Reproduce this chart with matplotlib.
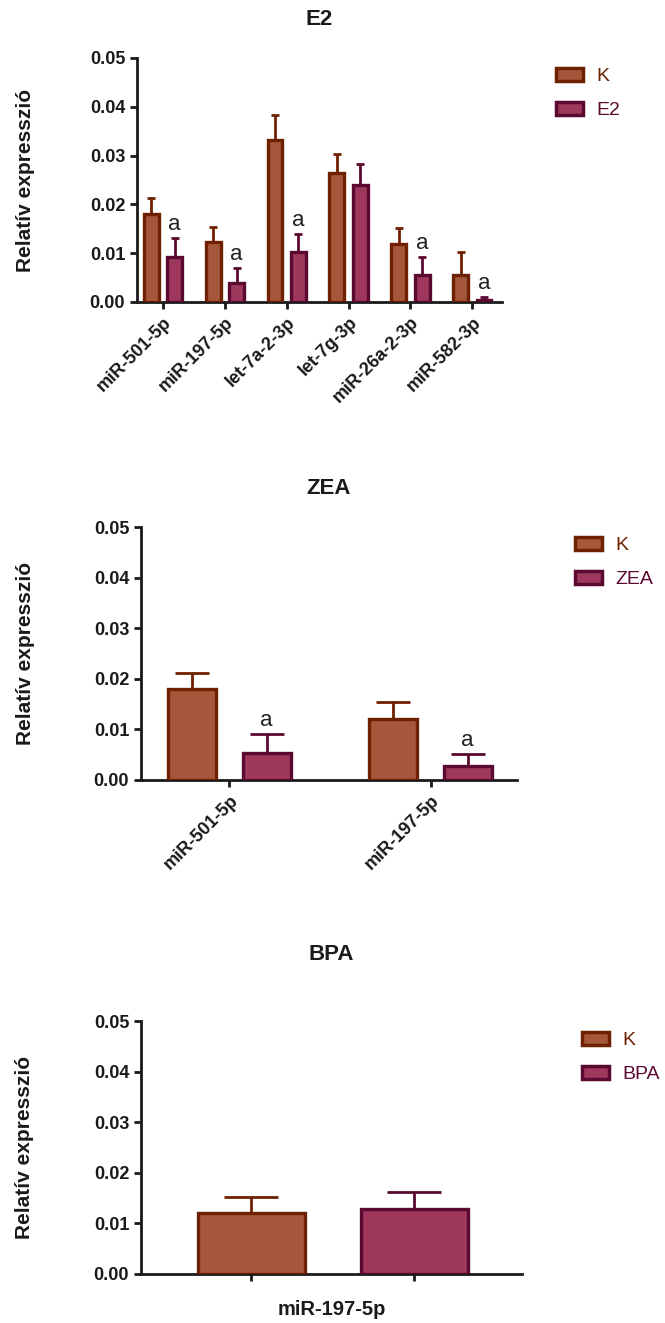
import numpy as np
import matplotlib
matplotlib.use('Agg')
import matplotlib.pyplot as plt
from matplotlib.patches import Patch

plt.rcParams['font.family'] = ['Liberation Sans', 'DejaVu Sans']

# E2 panel
e2_mirs = ['miR-501-5p', 'miR-197-5p', 'let-7a-2-3p', 'let-7g-3p', 'miR-26a-2-3p', 'miR-582-3p']
e2_k = [0.0180, 0.0123, 0.0332, 0.0264, 0.0119, 0.0055]
e2_k_err = [0.0033, 0.0031, 0.0051, 0.0039, 0.0033, 0.0047]
e2_kez = [0.0092, 0.0039, 0.0102, 0.0240, 0.0055, 0.0004]
e2_kez_err = [0.0039, 0.0031, 0.0037, 0.0043, 0.0037, 0.0006]
e2_sig = ['a', 'a', 'a', '', 'a', 'a']

# ZEA panel
zea_mirs = ['miR-501-5p', 'miR-197-5p']
zea_k = [0.0179, 0.0121]
zea_k_err = [0.0032, 0.0033]
zea_kez = [0.0053, 0.0028]
zea_kez_err = [0.0038, 0.0023]
zea_sig = ['a', 'a']

# BPA panel
bpa_mir = 'miR-197-5p'
bpa_k = 0.0121
bpa_k_err = 0.0031
bpa_kez = 0.0128
bpa_kez_err = 0.0034

K_FILL, K_EDGE = '#A5573C', '#6E2000'
T_FILL, T_EDGE = '#9E385C', '#5A0A30'

fig = plt.figure(figsize=(6.65, 13.23), dpi=100)


def style_axes(ax, title, title_pad, ylab_x):
    for s in ['top', 'right']:
        ax.spines[s].set_visible(False)
    for s in ['left', 'bottom']:
        ax.spines[s].set_linewidth(2)
        ax.spines[s].set_color('#1a1a1a')
    ax.set_ylim(0, 0.05)
    ax.set_yticks([0, 0.01, 0.02, 0.03, 0.04, 0.05])
    ax.set_yticklabels(['0.00', '0.01', '0.02', '0.03', '0.04', '0.05'])
    ax.tick_params(width=2, length=5, color='#1a1a1a', labelsize=13, labelcolor='#1a1a1a')
    for lab in ax.get_yticklabels():
        lab.set_fontweight('bold')
    ax.set_ylabel('Relatív expresszió', fontsize=15, fontweight='bold', color='#1a1a1a')
    ax.yaxis.set_label_coords(ylab_x, 0.5)
    ax.set_title(title, fontsize=16, fontweight='bold', pad=title_pad, color='#1a1a1a')


def bars(ax, x, vals, errs, fill, edge, width, capsize):
    vals = np.atleast_1d(vals)
    errs = np.atleast_1d(errs)
    ax.errorbar(x, vals, yerr=[np.zeros_like(errs), errs], fmt='none',
                ecolor=edge, elinewidth=2, capsize=capsize, capthick=2, zorder=2)
    ax.bar(x, vals, width, color=fill, edgecolor=edge, linewidth=2.4, zorder=3)


def legend(label, x, y):
    handles = [Patch(facecolor=K_FILL, edgecolor=K_EDGE, linewidth=2.5),
               Patch(facecolor=T_FILL, edgecolor=T_EDGE, linewidth=2.5)]
    fig.legend(handles, ['K', label], loc='upper left',
               bbox_to_anchor=(x / 665, 1 - y / 1323), frameon=False,
               fontsize=14, labelcolor=[K_EDGE, T_EDGE], borderpad=0,
               borderaxespad=0, handlelength=1.4, handleheight=0.65,
               handletextpad=0.7, labelspacing=0.85)


def sig_labels(ax, x, vals, errs, sig):
    for xi, v, e, s in zip(x, vals, errs, sig):
        if s:
            ax.annotate(s, (xi, v + e), xytext=(0, 2), textcoords='offset points',
                        ha='center', va='bottom', fontsize=16, color='#222222')


# E2
ax1 = fig.add_axes([137 / 665, 1 - 302 / 1323, 365 / 665, 244 / 1323])
x = np.arange(len(e2_mirs))
bars(ax1, x - 0.19, e2_k, e2_k_err, K_FILL, K_EDGE, 0.24, 3)
bars(ax1, x + 0.19, e2_kez, e2_kez_err, T_FILL, T_EDGE, 0.24, 3)
sig_labels(ax1, x + 0.19, e2_kez, e2_kez_err, e2_sig)
ax1.set_xlim(-0.42, 5.48)
style_axes(ax1, 'E2', 24, -0.28)
ax1.set_xticks(x)
ax1.set_xticklabels(e2_mirs, rotation=45, ha='right', rotation_mode='anchor',
                    fontsize=13, fontweight='bold')
legend('E2', 556, 68)

# ZEA
ax2 = fig.add_axes([141 / 665, 1 - 780 / 1323, 376 / 665, 253 / 1323])
x = np.arange(len(zea_mirs))
bars(ax2, x - 0.185, zea_k, zea_k_err, K_FILL, K_EDGE, 0.24, 12)
bars(ax2, x + 0.185, zea_kez, zea_kez_err, T_FILL, T_EDGE, 0.24, 12)
sig_labels(ax2, x + 0.185, zea_kez, zea_kez_err, zea_sig)
ax2.set_xlim(-0.44, 1.43)
style_axes(ax2, 'ZEA', 24, -0.282)
ax2.set_xticks(x)
ax2.set_xticklabels(zea_mirs, rotation=45, ha='right', rotation_mode='anchor',
                    fontsize=13, fontweight='bold')
legend('ZEA', 575, 537)

# BPA
ax3 = fig.add_axes([141 / 665, 1 - 1274 / 1323, 381 / 665, 253 / 1323])
bars(ax3, [0], bpa_k, bpa_k_err, K_FILL, K_EDGE, 0.655, 19.5)
bars(ax3, [1], bpa_kez, bpa_kez_err, T_FILL, T_EDGE, 0.655, 19.5)
ax3.set_xlim(-0.675, 1.66)
style_axes(ax3, 'BPA', 44, -0.282)
ax3.set_xticks([0, 1])
ax3.set_xticklabels(['', ''])
ax3.set_xlabel(bpa_mir, fontsize=14.5, fontweight='bold', labelpad=10, color='#1a1a1a')
legend('BPA', 582, 1032)

fig.savefig('out.png', dpi=100)
